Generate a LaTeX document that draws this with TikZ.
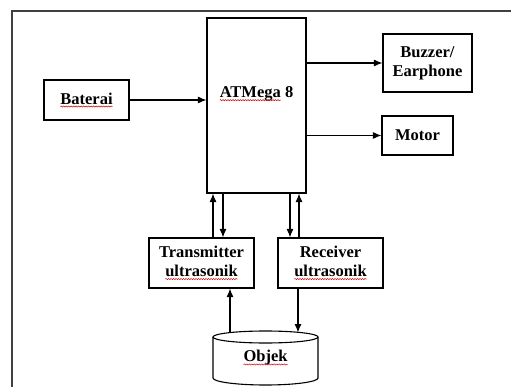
\documentclass[tikz,border=0pt]{standalone}
\usepackage{fontspec}
\setmainfont{Liberation Serif}
\usetikzlibrary{arrows.meta,decorations.pathmorphing}

\tikzset{
  txt/.style={font=\bfseries\fontsize{16.5}{19}\selectfont},
  blok/.style={txt, draw, line width=1.1pt, align=center, inner sep=0pt},
  arr/.style={-{Latex[length=8.5pt,width=7pt]}, line width=1.1pt},
  squig/.style={red!80!black, line width=0.5pt, decorate,
    decoration={snake, amplitude=0.6pt, segment length=2.5pt}}
}
% red spell-check underline
\newcommand{\typo}[1]{\tikz[baseline=(w.base)]{\node[inner sep=0pt, outer sep=0pt, minimum size=0pt, draw=none] (w) {#1};
  \draw[squig] ([yshift=-2.5pt]w.base west) -- ([yshift=-2.5pt]w.base east);}}

\begin{document}
\begin{tikzpicture}[x=1pt, y=-1pt]
        \useasboundingbox (0,0) rectangle (511,387);
        \draw[line width=1.6pt, gray!50!black] (12,387) -- (12,11) -- (511,11);

        \node[blok, minimum width=85pt, minimum height=40pt] (bat) at (86.5,100) {\typo{Baterai}};
        \node[blok, minimum width=99pt, minimum height=175pt] (atm) at (256.5,105.5) {};
        \node[txt] (atmlbl) at (256.5,94) {\typo{ATMega} 8};
        \node[blok, minimum width=89pt, minimum height=58pt] (buz) at (427.5,63) {Buzzer/\\Earphone};
        \node[blok, minimum width=71pt, minimum height=39pt] (mot) at (417.5,135.5) {Motor};
        \node[blok, minimum width=105pt, minimum height=50pt] (trx) at (201.5,263) {Transmitter\\\typo{ultrasonik}};
        \node[blok, minimum width=105pt, minimum height=50pt] (rcv) at (330.5,263) {Receiver\\\typo{ultrasonik}};

        % objek (cylinder)
        \draw[line width=1.1pt] (213,337) -- (213,378) arc[start angle=180, end angle=360, x radius=52.5pt, y radius=7pt] -- (318,337);
        \draw[line width=1.1pt] (265.5,337) ellipse [x radius=52.5pt, y radius=6pt];
        \node[txt] (obj) at (265.5,358) {\typo{Objek}};
        \coordinate (objL) at (230,332.5);
        \coordinate (objR) at (298,332.5);

        \draw[arr] (bat.east) -- (bat.east -| atm.west);
        \draw[arr] (atm.east |- buz.west) -- (buz.west);
        \draw[arr] (atm.east |- mot.west) -- (mot.west);
        \draw[arr] (trx.north -| 213,0) -- (atm.south -| 213,0);
        \draw[arr] (atm.south -| 223,0) -- (trx.north -| 223,0);
        \draw[arr] (atm.south -| 290,0) -- (rcv.north -| 290,0);
        \draw[arr] (rcv.north -| 299,0) -- (atm.south -| 299,0);
        \draw[arr] (objL) -- (trx.south -| objL);
        \draw[arr] (rcv.south -| objR) -- (objR);
    \end{tikzpicture}
\end{document}
